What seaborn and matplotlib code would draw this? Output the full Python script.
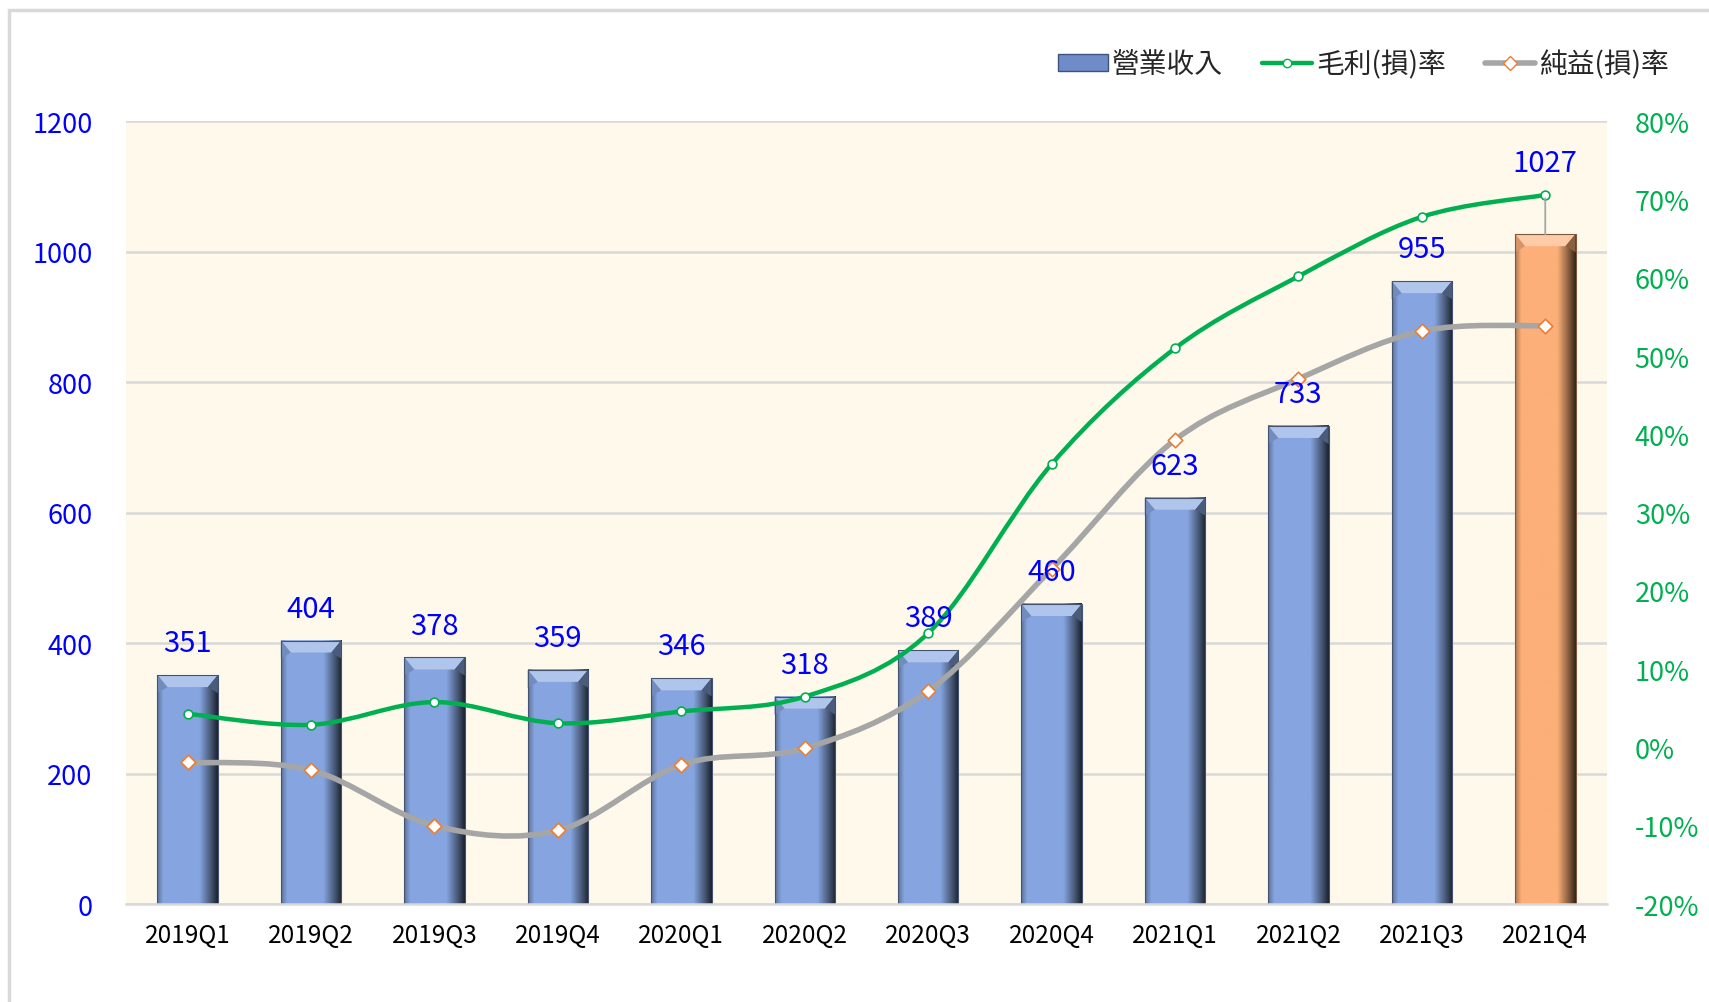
import numpy as np
import matplotlib
matplotlib.use("Agg")
import matplotlib.pyplot as plt
import seaborn as sns
from matplotlib.path import Path
from matplotlib.patches import PathPatch, Polygon, Rectangle
from matplotlib.colors import to_rgb
from matplotlib.lines import Line2D
from matplotlib.ticker import FuncFormatter, MultipleLocator

# data
quarters = ["2019Q1", "2019Q2", "2019Q3", "2019Q4", "2020Q1", "2020Q2",
            "2020Q3", "2020Q4", "2021Q1", "2021Q2", "2021Q3", "2021Q4"]
revenue = [351, 404, 378, 359, 346, 318, 389, 460, 623, 733, 955, 1027]
gross_margin = [4.3, 2.9, 5.8, 3.1, 4.6, 6.5, 14.6, 36.2, 51.0, 60.2, 67.8, 70.6]
net_margin = [-1.9, -2.9, -10.0, -10.6, -2.2, -0.1, 7.2, 22.8, 39.3, 47.1, 53.2, 53.9]
legend_labels = ["營業收入", "毛利(損)率", "純益(損)率"]

BLUE = "#86A5E0"
ORANGE = "#FCAF78"
GREEN = "#00B050"
GRAY = "#A6A6A6"
MARK_ORANGE = "#ED7D31"
CREAM = "#FEF9EB"
GRID = "#D9D9D9"

sns.set_style("white")
plt.rcParams["font.family"] = ["Noto Sans CJK TC", "DejaVu Sans"]

fig = plt.figure(figsize=(17.09, 10.03), dpi=100)
ax = fig.add_axes([0.0737, 0.0977, 0.8666, 0.7803])
ax.set_facecolor(CREAM)

bar_colors = [BLUE] * (len(quarters) - 1) + [ORANGE]
sns.barplot(x=quarters, y=revenue, hue=quarters, palette=bar_colors,
            legend=False, width=0.49, ax=ax, saturation=1, zorder=2)

ax.set_ylim(0, 1200)
ax.set_xlim(-0.5, len(quarters) - 0.5)
ax.yaxis.set_major_locator(MultipleLocator(200))
ax.grid(axis="y", color=GRID, lw=1.8, zorder=0)
ax.set_axisbelow(True)
for s in ["left", "right", "top"]:
    ax.spines[s].set_visible(False)
ax.spines["bottom"].set_color(GRID)
ax.spines["bottom"].set_linewidth(1.8)
ax.tick_params(axis="y", length=0, pad=24, labelsize=19.5, labelcolor="#0000FF")
ax.tick_params(axis="x", length=0, pad=13, labelsize=17.5, labelcolor="black")


def shade(c, f):
    c = np.array(to_rgb(c))
    if f < 0:
        return tuple(c * (1 + f))
    return tuple(c + (1 - c) * f)


# bevel look on each bar
fig.canvas.draw()
px_x = ax.transData.transform((1, 0))[0] - ax.transData.transform((0, 0))[0]
px_y = ax.transData.transform((0, 1))[1] - ax.transData.transform((0, 0))[1]
for p, col in zip(ax.patches, bar_colors):
    x0, w, h = p.get_x(), p.get_width(), p.get_height()
    prof = np.linspace(0, 1, 60)
    stops = [0, 0.1, 0.7, 0.88, 1]
    facs = [-0.3, 0, 0, -0.45, -0.78]
    f = np.interp(prof, stops, facs)
    img = np.array([[shade(col, v) for v in f]])
    ax.imshow(img, extent=(x0, x0 + w, 0, h), aspect="auto", zorder=2.1,
              interpolation="bilinear")
    dx = 10 / px_x
    dy = 12 / px_y
    ax.add_patch(Polygon([(x0, h), (x0 + w, h), (x0 + w - dx, h - dy), (x0 + dx, h - dy)],
                         closed=True, facecolor=shade(col, 0.35), edgecolor="none", zorder=2.2))
    ax.add_patch(Polygon([(x0, h), (x0 + dx, h - dy), (x0, h - dy * 1.5)],
                         closed=True, facecolor=shade(col, -0.15), edgecolor="none", zorder=2.2))
    ax.add_patch(Polygon([(x0 + w, h), (x0 + w, h - dy * 1.5), (x0 + w - dx, h - dy)],
                         closed=True, facecolor=shade(col, -0.45), edgecolor="none", zorder=2.2))
    ax.add_patch(Rectangle((x0, 0), w, h, facecolor="none", edgecolor=shade(col, -0.5),
                           lw=0.8, zorder=2.3))
ax.set_xlim(-0.5, len(quarters) - 0.5)
ax.set_ylim(0, 1200)

ax2 = ax.twinx()
ax2.set_ylim(-20, 80)
ax2.yaxis.set_major_locator(MultipleLocator(10))
ax2.yaxis.set_major_formatter(FuncFormatter(lambda v, _: f"{v:.0f}%"))
ax2.tick_params(axis="y", length=0, pad=20, labelsize=19.5, labelcolor=GREEN)
for s in ["left", "right", "top", "bottom"]:
    ax2.spines[s].set_visible(False)


def smooth_path(xs, ys):
    pts = np.column_stack([xs, ys]).astype(float)
    n = len(pts)
    verts = [pts[0]]
    codes = [Path.MOVETO]
    for i in range(n - 1):
        p0 = pts[max(i - 1, 0)]
        p1 = pts[i]
        p2 = pts[i + 1]
        p3 = pts[min(i + 2, n - 1)]
        verts += [p1 + (p2 - p0) / 6, p2 - (p3 - p1) / 6, p2]
        codes += [Path.CURVE4] * 3
    return Path(verts, codes)


xpos = np.arange(len(quarters))
ax2.add_patch(PathPatch(smooth_path(xpos, net_margin), facecolor="none",
                        edgecolor=GRAY, lw=4, capstyle="round", zorder=3))
ax2.add_patch(PathPatch(smooth_path(xpos, gross_margin), facecolor="none",
                        edgecolor=GREEN, lw=3.2, capstyle="round", zorder=3))
ax2.scatter(xpos, net_margin, marker="D", s=55, facecolor="white",
            edgecolor=MARK_ORANGE, linewidth=1.2, zorder=4)
ax2.scatter(xpos, gross_margin, marker="o", s=40, facecolor="white",
            edgecolor=GREEN, linewidth=1.2, zorder=4)

# value labels above bars
for i, v in enumerate(revenue):
    if i == len(revenue) - 1:
        ax2.annotate(str(v), xy=(i, v), xycoords=ax.transData, xytext=(0, 51),
                     textcoords="offset points", ha="center", va="center",
                     fontsize=21, color="#0000FF", zorder=6,
                     arrowprops=dict(arrowstyle="-", color=GRAY, lw=1.3,
                                     shrinkA=12, shrinkB=0, relpos=(0.5, 0)))
    else:
        ax2.annotate(str(v), xy=(i, v), xycoords=ax.transData, xytext=(0, 23),
                     textcoords="offset points", ha="center", va="center",
                     fontsize=21, color="#0000FF", zorder=6)

handles = [
    Rectangle((0, 0), 1, 1, facecolor="#6F8CC8", edgecolor="#3E5480", lw=1),
    Line2D([], [], color=GREEN, lw=3.2, marker="o", ms=6, mfc="white", mec=GREEN),
    Line2D([], [], color=GRAY, lw=4, marker="D", ms=7, mfc="white", mec=MARK_ORANGE),
]
fig.legend(handles, legend_labels, loc="center right", bbox_to_anchor=(0.991, 0.935),
           ncol=3, frameon=False, fontsize=20, handlelength=1.8, handleheight=0.6,
           columnspacing=1.4, handletextpad=0.15)

# outer chart border
fig.patches.append(Rectangle((0.0053, -0.2), 2, 1.2 - 11 / 1003, transform=fig.transFigure,
                             facecolor="none", edgecolor=GRID, lw=2.5, zorder=0))

fig.savefig("out.png", dpi=100)
